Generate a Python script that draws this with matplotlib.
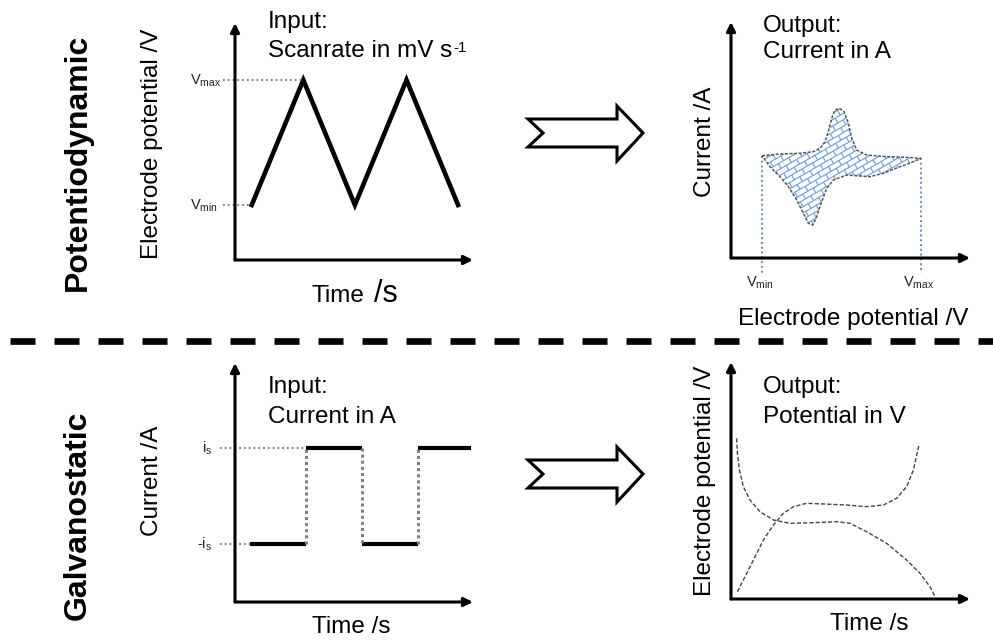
import numpy as np
import matplotlib.pyplot as plt
from matplotlib.patches import Polygon
from matplotlib.collections import LineCollection
from matplotlib.transforms import IdentityTransform

plt.rcParams['font.family'] = ['Liberation Sans', 'DejaVu Sans']
plt.rcParams['mathtext.fontset'] = 'custom'
plt.rcParams['mathtext.rm'] = 'Liberation Sans'
plt.rcParams['mathtext.it'] = 'Liberation Sans:italic'
plt.rcParams['mathtext.bf'] = 'Liberation Sans:bold'

W, H = 993, 641

# --- potentiodynamic input: triangular sweep (0 = Vmin, 1 = Vmax)
sweep_t = [0, 1, 2, 3, 4]
sweep_v = [0, 1, 0, 1, 0]

# --- potentiodynamic output: cyclic voltammogram (E scaled 0..1, i arbitrary)
cv_up_E = [0.0, 0.113, 0.239, 0.323, 0.365, 0.396, 0.417, 0.438, 0.459, 0.486,
           0.516, 0.543, 0.564, 0.595, 0.658, 0.784, 0.910, 1.0]
cv_up_i = [0.03, 0.075, 0.092, 0.133, 0.217, 0.383, 0.633, 0.967, 1.175, 1.217,
           1.133, 0.842, 0.467, 0.175, 0.05, 0.008, -0.008, -0.033]
cv_dn_E = [1.0, 0.952, 0.868, 0.763, 0.679, 0.616, 0.533, 0.449, 0.407, 0.375,
           0.344, 0.319, 0.292, 0.260, 0.218, 0.166, 0.113, 0.050, 0.0]
cv_dn_i = [-0.033, -0.117, -0.242, -0.408, -0.492, -0.475, -0.45, -0.575, -0.783, -1.117,
           -1.492, -1.7, -1.658, -1.408, -1.075, -0.742, -0.492, -0.242, 0.03]

# --- galvanostatic input: current steps (+-is)
step_t = [0, 1, 2, 3, 3.95]
step_i = [-1, 1, -1, 1]

# --- galvanostatic output: potential transients
pot_a_t = [0.028, 0.032, 0.042, 0.062, 0.095, 0.145, 0.212, 0.295, 0.412, 0.528,
           0.595, 0.678, 0.778, 0.878, 0.945, 0.995, 1.020]
pot_a_v = [1.607, 1.457, 1.290, 1.123, 0.990, 0.873, 0.790, 0.757, 0.763, 0.773,
           0.757, 0.673, 0.557, 0.390, 0.257, 0.123, 0.023]
pot_b_t = [0.032, 0.070, 0.112, 0.162, 0.212, 0.262, 0.312, 0.378, 0.462, 0.578,
           0.678, 0.762, 0.828, 0.878, 0.912, 0.940]
pot_b_v = [0.073, 0.223, 0.390, 0.590, 0.740, 0.857, 0.923, 0.957, 0.950, 0.940,
           0.923, 0.940, 1.007, 1.123, 1.290, 1.540]

BLUE = '#4a7ebb'
FS = 17.5
SMALL = 10.5

fig = plt.figure(figsize=(W / 100, H / 100), dpi=100)
bg = fig.add_axes([0, 0, 1, 1])
bg.set_xlim(0, W)
bg.set_ylim(H, 0)
bg.axis('off')


def panel(left, right, top, bottom, xlim, ylim):
    ax = fig.add_axes([left / W, 1 - bottom / H, (right - left) / W, (bottom - top) / H])
    ax.set_xlim(*xlim)
    ax.set_ylim(*ylim)
    ax.axis('off')
    for end in [(0, 1), (1, 0)]:
        ax.annotate('', xy=end, xytext=(0, 0), xycoords='axes fraction',
                    arrowprops=dict(arrowstyle='-|>', lw=2.2, color='black',
                                    mutation_scale=13, shrinkA=0, shrinkB=0))
    return ax


def left_of_axis(ax, px):
    x0, x1 = ax.get_xlim()
    w = ax.get_position().width * W
    return x0 - px * (x1 - x0) / w


# ---------------- panel 1: triangular sweep
ax1 = panel(235, 473, 23, 260, (-0.324, 4.289), (-0.44, 1.456))
ax1.plot(sweep_t, sweep_v, color='black', lw=3.3, solid_joinstyle='miter')
xe = left_of_axis(ax1, 12)
ax1.plot([xe, sweep_t[1]], [1, 1], ls=':', color=BLUE, lw=1.3, clip_on=False)
ax1.plot([xe, sweep_t[0]], [0, 0], ls=':', color=BLUE, lw=1.3, clip_on=False)
for val, lab in [(1, r'V$_{\mathrm{max}}$'), (0, r'V$_{\mathrm{min}}$')]:
    ax1.annotate(lab, xy=(0, val), xycoords=('axes fraction', 'data'), xytext=(-45, -5),
                 textcoords='offset pixels', ha='left', va='baseline', fontsize=SMALL,
                 color='#222')

# ---------------- panel 2: cyclic voltammogram
ax2 = panel(731, 970, 22, 258, (-0.195, 1.308), (-2.525, 3.375))
verts = np.column_stack([cv_up_E + cv_dn_E[1:], cv_up_i + cv_dn_i[1:]])
cv = Polygon(verts, closed=True, facecolor='white', edgecolor='none', zorder=3)
ax2.add_patch(cv)

# brick hatch, built in pixel space and clipped to the CV loop
disp = ax2.transData.transform(verts)
c = disp.mean(axis=0)
R = np.hypot(*(disp.max(axis=0) - disp.min(axis=0)))
a = np.deg2rad(30)
d = np.array([np.cos(a), np.sin(a)])
n = np.array([-np.sin(a), np.cos(a)])
s, L = 5.5, 12.0
segs = []
for k in range(-int(R / s) - 1, int(R / s) + 2):
    w = k * s
    segs.append([c - R * d + w * n, c + R * d + w * n])
    off = (k % 2) * L / 2
    for j in range(-int(R / L) - 1, int(R / L) + 2):
        u = j * L + off
        segs.append([c + u * d + w * n, c + u * d + (w + s) * n])
lc = LineCollection(segs, colors='#6b9ade', linewidths=0.8, transform=IdentityTransform(),
                    zorder=4)
ax2.add_collection(lc)
lc.set_clip_path(cv)
edge = Polygon(verts, closed=True, facecolor='none', edgecolor='#555', lw=1.1,
               ls=(0, (2, 1)), zorder=5)
ax2.add_patch(edge)

ybot = ax2.get_ylim()[0]
for E, i0, lab in [(cv_up_E[0], cv_up_i[0], r'V$_{\mathrm{min}}$'),
                   (cv_up_E[-1], cv_up_i[-1], r'V$_{\mathrm{max}}$')]:
    ax2.plot([E, E], [i0, ybot - 0.38], ls=':', color=BLUE, lw=1.3, clip_on=False)
    ax2.annotate(lab, xy=(E, ybot), xycoords='data', xytext=(-2, -29),
                 textcoords='offset pixels', ha='center', va='baseline', fontsize=SMALL,
                 color='#222')

# ---------------- panel 3: current steps
ax3 = panel(235, 473, 363, 602, (-0.268, 3.982), (-2.208, 2.771))
for k, cur in enumerate(step_i):
    ax3.plot([step_t[k], step_t[k + 1]], [cur, cur], color='black', lw=3.0,
             solid_capstyle='butt')
    if k > 0:
        ax3.plot([step_t[k], step_t[k]], [step_i[k - 1], cur], color='#7f7f7f', lw=2.2,
                 ls=(0, (1, 1)))
xe = left_of_axis(ax3, 15)
ax3.plot([xe, step_t[1]], [1, 1], ls=':', color=BLUE, lw=1.3, clip_on=False)
ax3.plot([xe, step_t[0]], [-1, -1], ls=':', color=BLUE, lw=1.3, clip_on=False)
for val, lab in [(1, r'i$_{\mathrm{s}}$'), (-1, r'-i$_{\mathrm{s}}$')]:
    ax3.annotate(lab, xy=(0, val), xycoords=('axes fraction', 'data'), xytext=(-23, -5),
                 textcoords='offset pixels', ha='right', va='baseline', fontsize=SMALL,
                 color='#222')

# ---------------- panel 4: potential transients
ax4 = panel(731, 970, 362, 599, (0, 1.195), (0, 2.37))
ax4.plot(pot_a_t, pot_a_v, color='#444', lw=1.0, ls=(0, (3, 1.5)))
ax4.plot(pot_b_t, pot_b_v, color='#444', lw=1.0, ls=(0, (3, 1.5)))

# ---------------- texts
txt = dict(fontsize=FS, color='black', va='baseline', ha='left')
bg.text(268, 28, 'Input:', **txt)
sr = bg.text(268, 57, 'Scanrate in mV s', **txt)
bg.annotate('-1', xy=(1, 1), xycoords=sr, xytext=(1, -1), textcoords='offset pixels',
            ha='left', va='top', fontsize=11)
bg.text(763, 32, 'Output:', **txt)
bg.text(763, 58, 'Current in A', **txt)
bg.text(268, 393, 'Input:', **txt)
bg.text(268, 423, 'Current in A', **txt)
bg.text(763, 393, 'Output:', **txt)
bg.text(763, 423, 'Potential in V', **txt)

bg.text(312, 302, 'Time', **txt)
bg.text(374, 302, '/s', fontsize=22, va='baseline', ha='left')
bg.text(312, 633, 'Time /s', **txt)
bg.text(830, 630, 'Time /s', **txt)
bg.text(738, 325, 'Electrode potential /V', **txt)

rot = dict(fontsize=FS, rotation=90, ha='center', va='center')
bg.text(152, 144, 'Electrode potential /V', **rot)
bg.text(705, 142, 'Current /A', **rot)
bg.text(152, 481, 'Current /A', **rot)
bg.text(705, 481, 'Electrode potential /V', **rot)

bg.text(78, 162, 'Potentiodynamic', fontsize=23, fontweight='bold', rotation=90,
        ha='center', va='center')
bg.text(78, 515, 'Galvanostatic', fontsize=23, fontweight='bold', rotation=90,
        ha='center', va='center')

# separator
bg.plot([10, W], [340.5, 340.5], color='black', lw=4.8, ls=(0, (3.75, 2.85)),
        dash_capstyle='butt')

# block arrows between input and output
arrow_shape = np.array([[-57, -14], [-42, 0], [-57, 14], [32, 14], [32, 28],
                        [58, 0], [32, -27], [32, -14]])
for cx, cy in [(585, 133), (585, 474)]:
    bg.add_patch(Polygon(arrow_shape + [cx, cy], closed=True, facecolor='white',
                         edgecolor='black', lw=2.2, joinstyle='miter'))

fig.savefig('out.png', dpi=100)
